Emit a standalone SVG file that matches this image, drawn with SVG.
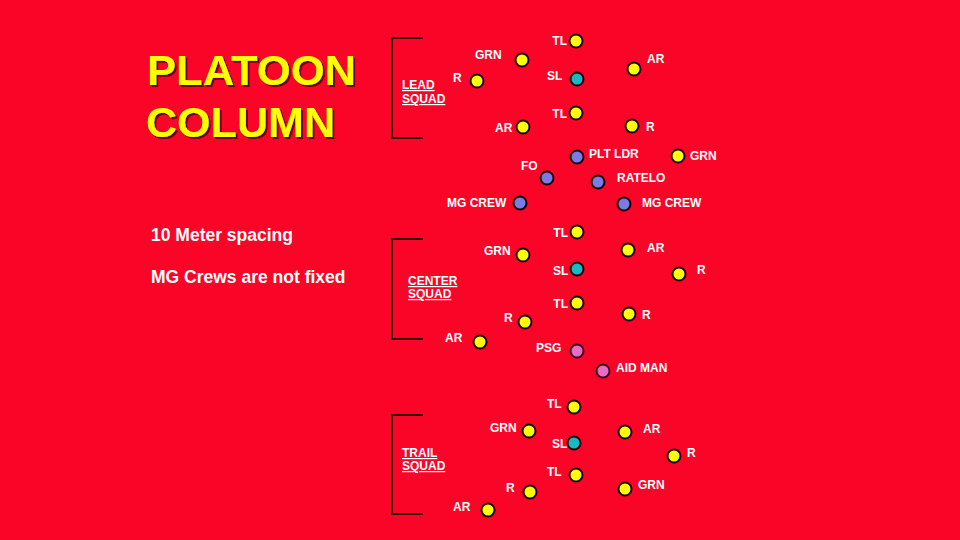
<svg xmlns="http://www.w3.org/2000/svg" width="960" height="540" viewBox="0 0 960 540">
<defs>
<filter id="sh" x="-5%" y="-5%" width="115%" height="130%">
<feDropShadow dx="2" dy="2" stdDeviation="0.4" flood-color="#6a000c" flood-opacity="1"/>
</filter>
</defs>
<style>
.lb{font-family:"Liberation Sans",Arial,sans-serif;font-weight:bold;font-size:12px;fill:#fff}
.sq{font-family:"Liberation Sans",Arial,sans-serif;font-weight:bold;font-size:12px;fill:#fff;text-decoration:underline}
.y{fill:#ffff00;stroke:#1a0000;stroke-width:2}
.t{fill:#19b9c4;stroke:#1a0000;stroke-width:2}
.b{fill:#7b7be8;stroke:#1a0000;stroke-width:2}
.p{fill:#e66cc4;stroke:#3a0018;stroke-width:2}
.br{fill:none;stroke:#3a0008;stroke-width:2}
.ttl{font-family:"Liberation Sans",Arial,sans-serif;font-weight:bold;font-size:43px;fill:#ffff00}
.side{font-family:"Liberation Sans",Arial,sans-serif;font-weight:bold;font-size:17.5px;fill:#fff}
</style>
<rect width="960" height="540" fill="#fa0428"/>
<g id="title" filter="url(#sh)">
<text class="ttl" x="147" y="85" textLength="209" lengthAdjust="spacingAndGlyphs">PLATOON</text>
<text class="ttl" x="146" y="137" textLength="189" lengthAdjust="spacingAndGlyphs">COLUMN</text>
</g>
<g id="notes">
<text class="side" x="151" y="241">10 Meter spacing</text>
<text class="side" x="151" y="283">MG Crews are not fixed</text>
</g>
<g id="brackets">
<path class="br" d="M423,38 H392 V138 H423"/>
<path class="br" d="M423,239 H392 V339 H423"/>
<path class="br" d="M423,415 H392 V514 H423"/>
</g>
<g id="squad-labels">
<text class="sq" x="402" y="89">LEAD</text><text class="sq" x="402" y="103">SQUAD</text>
<text class="sq" x="408" y="285">CENTER</text><text class="sq" x="408" y="298">SQUAD</text>
<text class="sq" x="402" y="457">TRAIL</text><text class="sq" x="402" y="470">SQUAD</text>
</g>
<g id="lead-tl1"><circle class="y" cx="576" cy="41" r="6.5"/><text class="lb" x="567" y="45" text-anchor="end">TL</text></g>
<g id="lead-grn1"><circle class="y" cx="522" cy="60" r="6.5"/><text class="lb" x="475" y="59">GRN</text></g>
<g id="lead-ar1"><circle class="y" cx="634" cy="69" r="6.5"/><text class="lb" x="647" y="63">AR</text></g>
<g id="lead-r1"><circle class="y" cx="477" cy="81" r="6.5"/><text class="lb" x="453" y="82">R</text></g>
<g id="lead-sl"><circle class="t" cx="577" cy="79" r="6.5"/><text class="lb" x="547" y="80">SL</text></g>
<g id="lead-tl2"><circle class="y" cx="576" cy="113" r="6.5"/><text class="lb" x="567" y="118" text-anchor="end">TL</text></g>
<g id="lead-ar2"><circle class="y" cx="523" cy="127" r="6.5"/><text class="lb" x="495" y="132">AR</text></g>
<g id="lead-r2"><circle class="y" cx="632" cy="126" r="6.5"/><text class="lb" x="646" y="131">R</text></g>
<g id="lead-grn2"><circle class="y" cx="678" cy="156" r="6.5"/><text class="lb" x="690" y="160">GRN</text></g>
<g id="plt-ldr"><circle class="b" cx="577" cy="157" r="6.5"/><text class="lb" x="589" y="158">PLT LDR</text></g>
<g id="fo"><circle class="b" cx="547" cy="178" r="6.5"/><text class="lb" x="521" y="170">FO</text></g>
<g id="ratelo"><circle class="b" cx="598" cy="182" r="6.5"/><text class="lb" x="617" y="182">RATELO</text></g>
<g id="mg-crew-l"><circle class="b" cx="520" cy="203" r="6.5"/><text class="lb" x="447" y="207">MG CREW</text></g>
<g id="mg-crew-r"><circle class="b" cx="624" cy="204" r="6.5"/><text class="lb" x="642" y="207">MG CREW</text></g>
<g id="center-tl1"><circle class="y" cx="577" cy="232" r="6.5"/><text class="lb" x="568" y="237" text-anchor="end">TL</text></g>
<g id="center-grn"><circle class="y" cx="523" cy="255" r="6.5"/><text class="lb" x="484" y="255">GRN</text></g>
<g id="center-ar1"><circle class="y" cx="628" cy="250" r="6.5"/><text class="lb" x="647" y="252">AR</text></g>
<g id="center-sl"><circle class="t" cx="577" cy="269" r="6.5"/><text class="lb" x="553" y="275">SL</text></g>
<g id="center-r1"><circle class="y" cx="679" cy="274" r="6.5"/><text class="lb" x="697" y="274">R</text></g>
<g id="center-tl2"><circle class="y" cx="577" cy="303" r="6.5"/><text class="lb" x="568" y="308" text-anchor="end">TL</text></g>
<g id="center-r2"><circle class="y" cx="525" cy="322" r="6.5"/><text class="lb" x="504" y="322">R</text></g>
<g id="center-r3"><circle class="y" cx="629" cy="314" r="6.5"/><text class="lb" x="642" y="319">R</text></g>
<g id="center-ar2"><circle class="y" cx="480" cy="342" r="6.5"/><text class="lb" x="445" y="342">AR</text></g>
<g id="psg"><circle class="p" cx="577" cy="351" r="6.5"/><text class="lb" x="536" y="352">PSG</text></g>
<g id="aid-man"><circle class="p" cx="603" cy="371" r="6.5"/><text class="lb" x="616" y="372">AID MAN</text></g>
<g id="trail-tl1"><circle class="y" cx="574" cy="407" r="6.5"/><text class="lb" x="547" y="408">TL</text></g>
<g id="trail-grn1"><circle class="y" cx="529" cy="431" r="6.5"/><text class="lb" x="490" y="432">GRN</text></g>
<g id="trail-ar1"><circle class="y" cx="625" cy="432" r="6.5"/><text class="lb" x="643" y="433">AR</text></g>
<g id="trail-sl"><circle class="t" cx="574" cy="443" r="6.5"/><text class="lb" x="552" y="448">SL</text></g>
<g id="trail-r1"><circle class="y" cx="674" cy="456" r="6.5"/><text class="lb" x="687" y="457">R</text></g>
<g id="trail-tl2"><circle class="y" cx="576" cy="475" r="6.5"/><text class="lb" x="547" y="476">TL</text></g>
<g id="trail-r2"><circle class="y" cx="530" cy="492" r="6.5"/><text class="lb" x="506" y="492">R</text></g>
<g id="trail-grn2"><circle class="y" cx="625" cy="489" r="6.5"/><text class="lb" x="638" y="489">GRN</text></g>
<g id="trail-ar2"><circle class="y" cx="488" cy="510" r="6.5"/><text class="lb" x="453" y="511">AR</text></g>
</svg>
